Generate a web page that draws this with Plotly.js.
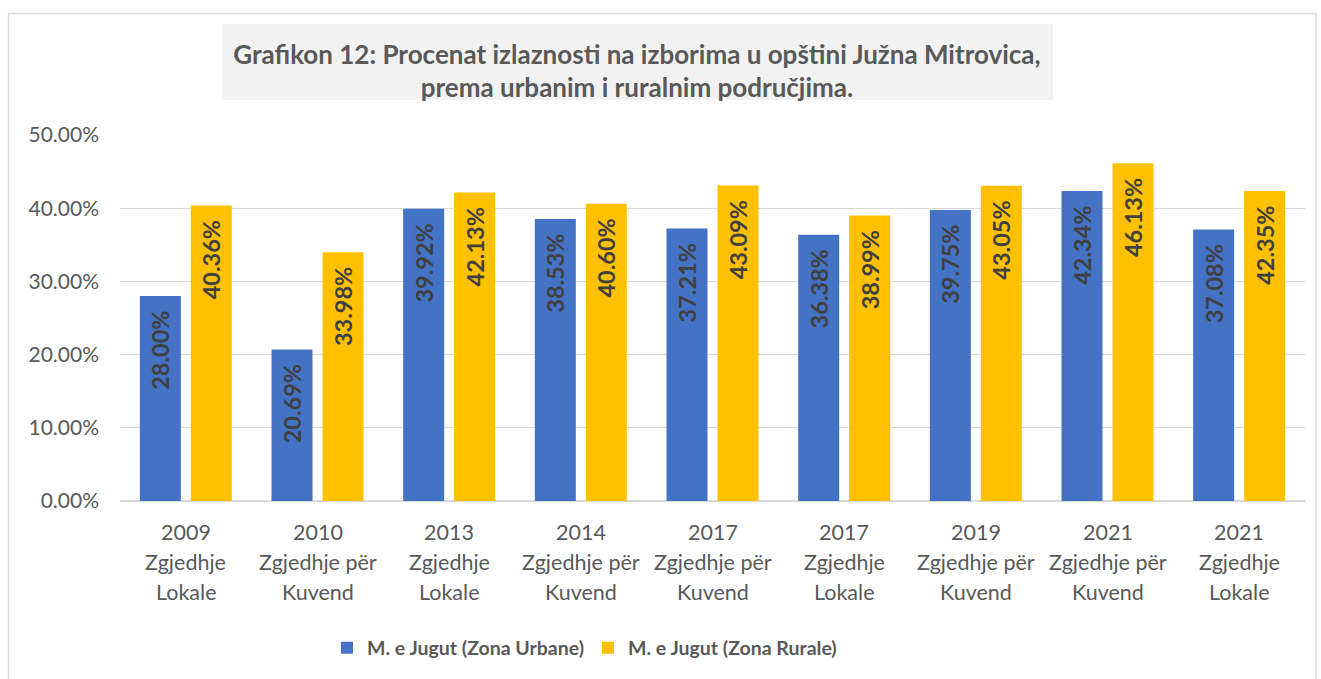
<!DOCTYPE html>
<html>
<head>
<meta charset="utf-8">
<script src="https://cdn.plot.ly/plotly-3.0.1.min.js"></script>
<style>html,body{margin:0;padding:0;background:#fff;}#chart{width:1321px;height:679px;}</style>
</head>
<body>
<div id="chart"></div>
<script>
// ---- data ----
const categories = [
  "2009|Zgjedhje|Lokale",
  "2010|Zgjedhje për|Kuvend",
  "2013|Zgjedhje|Lokale",
  "2014|Zgjedhje për|Kuvend",
  "2017|Zgjedhje për|Kuvend",
  "2017|Zgjedhje|Lokale",
  "2019|Zgjedhje për|Kuvend",
  "2021|Zgjedhje për|Kuvend",
  "2021|Zgjedhje|Lokale"
];
const urbanValues = [0.2800, 0.2069, 0.3992, 0.3853, 0.3721, 0.3638, 0.3975, 0.4234, 0.3708];
const ruralValues = [0.4036, 0.3398, 0.4213, 0.4060, 0.4309, 0.3899, 0.4305, 0.4613, 0.4235];
const seriesNames = ["M. e Jugut (Zona Urbane)", "M. e Jugut (Zona Rurale)"];
const titleText = "Grafikon 12: Procenat izlaznosti na izborima u opštini Južna Mitrovica,<br>prema urbanim i ruralnim područjima.";

// ---- layout helpers (pixel -> paper) ----
const W = 1321, H = 679;
const L = 120, R = 16, T = 135, B = 178;
const pw = W - L - R, ph = H - T - B;
const px = x => (x - L) / pw;
const py = y => (H - B - y) / ph;

const FONT = "Lato, Carlito, 'Liberation Sans', sans-serif";
const GREY = "#595959";

const labelFont = {family: FONT, size: 23.5, color: "#404040", weight: "bold"};
const barCommon = {
  type: "bar",
  textposition: "inside",
  insidetextanchor: "end",
  textangle: -90,
  constraintext: "none",
  texttemplate: "<b>%{y:.2%}</b>\u00a0\u00a0",
  textfont: labelFont,
  hoverinfo: "skip"
};

const traces = [
  Object.assign({}, barCommon, {x: categories, y: urbanValues, name: seriesNames[0], marker: {color: "#4472C4"}}),
  Object.assign({}, barCommon, {x: categories, y: ruralValues, name: seriesNames[1], marker: {color: "#FFC000"}})
];

// x category labels as 3 lines with Excel-like spacing
const lineY = [532, 562, 592];
const annotations = [];
categories.forEach(c => {
  c.split("|").forEach((line, i) => {
    annotations.push({
      x: c, xref: "x", y: py(lineY[i]), yref: "paper",
      text: line, showarrow: false, xanchor: "center", yanchor: "middle",
      font: {family: FONT, size: 21.5, color: GREY}
    });
  });
});

const layout = {
  width: W, height: H,
  margin: {l: L, r: R, t: T, b: B},
  paper_bgcolor: "#ffffff",
  plot_bgcolor: "#ffffff",
  font: {family: FONT, color: GREY},
  title: {
    text: "<b>" + titleText + "</b>",
    x: px(637), xref: "paper", xanchor: "center",
    y: 1 - 63.5 / H, yref: "container", yanchor: "middle",
    font: {family: FONT, size: 26, color: GREY}
  },
  barmode: "group",
  bargap: 0.2255,
  bargroupgap: 0.196,
  showlegend: true,
  legend: {
    orientation: "h", x: px(327), xanchor: "left", y: py(648), yanchor: "middle",
    font: {family: FONT, size: 19.5, color: GREY, weight: "bold"},
    entrywidthmode: "pixels", entrywidth: 216
  },
  xaxis: {
    type: "category",
    showticklabels: false,
    showgrid: false, zeroline: false, showline: false, ticks: ""
  },
  yaxis: {
    range: [0, 0.5], dtick: 0.1, tickformat: ".2%",
    showgrid: true, gridcolor: "#D9D9D9", gridwidth: 1,
    zeroline: true, zerolinecolor: "#D9D9D9", zerolinewidth: 1.5,
    showline: false, ticks: "", ticklabelstandoff: 20,
    tickfont: {family: FONT, size: 21, color: GREY}
  },
  shapes: [
    {type: "rect", xref: "paper", yref: "paper", layer: "below",
     x0: px(8.5), x1: px(1316), y0: py(700), y1: py(13.5),
     line: {color: "#D9D9D9", width: 1.3}, fillcolor: "rgba(0,0,0,0)"},
    {type: "rect", xref: "paper", yref: "paper", layer: "below",
     x0: px(222), x1: px(1053), y0: py(100), y1: py(24),
     line: {width: 0}, fillcolor: "#F2F2F2"}
  ],
  annotations: annotations
};

Plotly.newPlot("chart", traces, layout, {displayModeBar: false, staticPlot: true});
</script>
</body>
</html>
